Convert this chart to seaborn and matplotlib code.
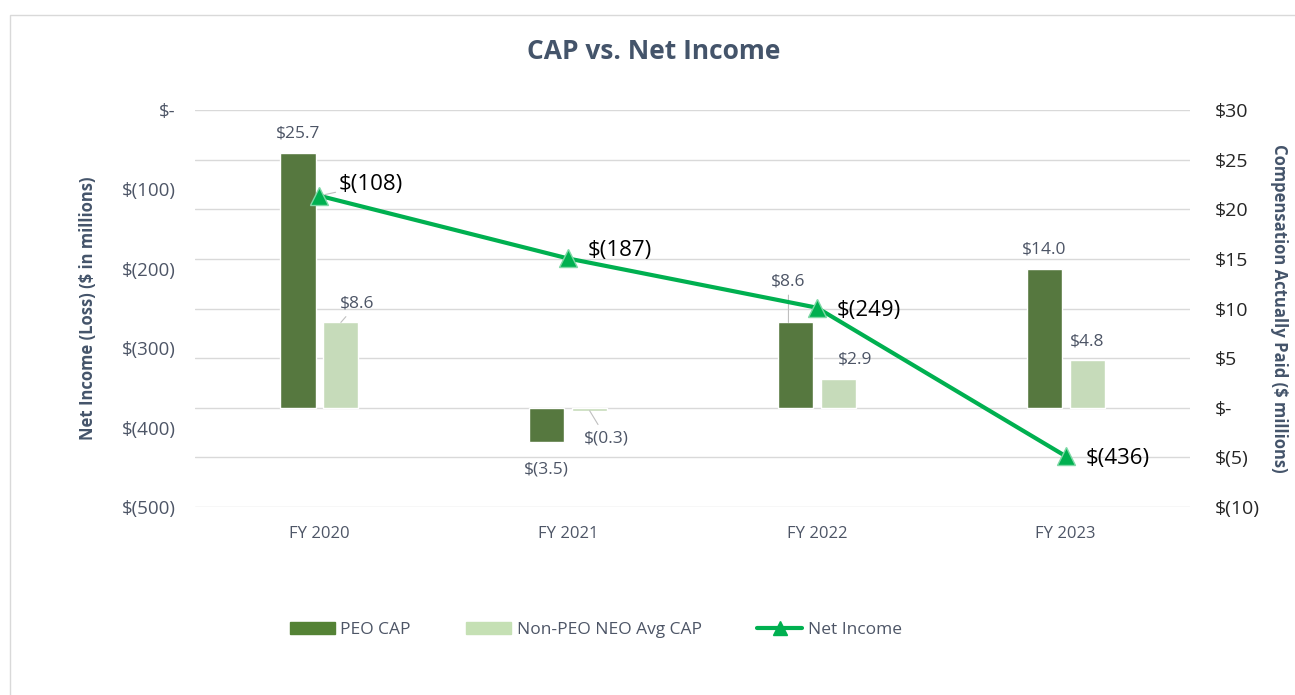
"""CAP vs. Net Income chart"""

from matplotlib import pyplot as plt
from matplotlib.lines import Line2D
from matplotlib.patches import Patch, Rectangle
import numpy as np
import pandas as pd
import seaborn as sns

years = ["FY 2020", "FY 2021", "FY 2022", "FY 2023"]
peo_cap = [25.7, -3.5, 8.6, 14.0]
neo_cap = [8.6, -0.3, 2.9, 4.8]
net_income = [-108, -187, -249, -436]

cap_ticks = [30, 25, 20, 15, 10, 5, 0, -5, -10]
ni_ticks = [0, -100, -200, -300, -400, -500]

DARK = "#548235"
LIGHT = "#C5E0B4"
LINE = "#00B050"
SLATE = "#44546A"
TEXT = "#4D5566"


def money(v, dec=1):
    if v == 0:
        return "$-"
    s = f"{abs(v):.{dec}f}"
    return f"$({s})" if v < 0 else f"${s}"


def main():
    sns.set_style("white")
    plt.rcParams["font.family"] = ["Open Sans", "DejaVu Sans"]

    df = pd.DataFrame(
        {
            "year": years * 2,
            "value": peo_cap + neo_cap,
            "series": ["PEO CAP"] * 4 + ["Non-PEO NEO Avg CAP"] * 4,
        }
    )

    fig, ax = plt.subplots(figsize=(12.95, 6.95), dpi=100)
    fig.subplots_adjust(left=0.1506, right=0.919, bottom=0.2705, top=0.8417)

    # light frame around the chart
    fig.patches.append(
        Rectangle((0.008, -0.01), 1.0, 0.988, transform=fig.transFigure,
                  fill=False, edgecolor="#D9D9D9", linewidth=1.0)
    )

    sns.barplot(
        data=df, x="year", y="value", hue="series",
        palette=[DARK, LIGHT], width=0.345, gap=0.18,
        legend=False, ax=ax, order=years,
    )
    ax_ni = ax.twinx()

    ax.set_ylim(-10, 30)
    ax.set_yticks(cap_ticks)
    ax.set_yticklabels([money(t, 0) for t in cap_ticks], fontsize=14, color="#262626")
    ax.yaxis.tick_right()
    ax.yaxis.set_label_position("right")
    ax.set_ylabel("Compensation Actually Paid ($ millions)", rotation=270,
                  labelpad=20, fontsize=12, fontweight="bold", color=SLATE)
    ax.grid(axis="y", color="#D9D9D9", linewidth=1)
    ax.set_axisbelow(True)
    ax.set_xlabel("")
    ax.tick_params(axis="x", labelsize=12, colors=TEXT, length=0, pad=14)
    ax.tick_params(axis="y", length=0, pad=18)
    for s in ax.spines.values():
        s.set_visible(False)

    # bar value labels (offset points per bar: dark, light)
    peo_off = [(0, 8), (0, -14), (0, 24), (0, 8)]
    neo_off = [(12, 8), (12, -14), (12, 8), (0, 8)]
    peo_bars = ax.patches[:4]
    neo_bars = ax.patches[4:8]
    for bars, vals, offs, leaders in (
        (peo_bars, peo_cap, peo_off, [False, False, True, False]),
        (neo_bars, neo_cap, neo_off, [True, True, False, False]),
    ):
        for b, v, off, lead in zip(bars, vals, offs, leaders):
            x = b.get_x() + b.get_width() / 2
            ox, oy = off
            xy = (b.get_x() + b.get_width() * 0.3, v) if oy > 20 else (x, v)
            ax.annotate(
                money(v), xy=xy, xytext=(ox, oy), textcoords="offset points",
                ha="center", va="bottom" if oy > 0 else "top",
                fontsize=12.5, color=TEXT,
                arrowprops=dict(arrowstyle="-", color="#BFBFBF", lw=0.8,
                                shrinkA=2, shrinkB=0) if lead else None,
            )

    sns.lineplot(
        x=np.arange(len(years)), y=net_income, ax=ax_ni, color=LINE,
        linewidth=3, marker="^", markersize=13, markeredgecolor="#7FD8A6",
        markeredgewidth=1,
    )
    ax_ni.set_ylim(-500, 0)
    ax_ni.set_yticks(ni_ticks)
    ax_ni.set_yticklabels([money(t, 0) for t in ni_ticks], fontsize=13.5, color=TEXT)
    ax_ni.yaxis.tick_left()
    ax_ni.yaxis.set_label_position("left")
    ax_ni.set_ylabel("Net Income (Loss) ($ in millions)", labelpad=18,
                     fontsize=12, fontweight="bold", color=SLATE)
    ax_ni.tick_params(axis="y", length=0, pad=14)
    for s in ax_ni.spines.values():
        s.set_visible(False)
    ax_ni.grid(False)
    ax.set_xlim(-0.5, len(years) - 0.5)

    ni_off = [(14, 8), (14, 6), (14, -2), (14, -2)]
    for i, (v, off) in enumerate(zip(net_income, ni_off)):
        ax_ni.annotate(
            money(v, 0), xy=(i, v), xytext=off, textcoords="offset points",
            ha="left", va="center", fontsize=16, color="black",
            arrowprops=dict(arrowstyle="-", color="#BFBFBF", lw=0.8,
                            shrinkA=0, shrinkB=4) if i == 0 else None,
        )

    fig.suptitle("CAP vs. Net Income", x=0.505, y=0.945, fontsize=19,
                 fontweight="bold", color=SLATE)

    handles = [
        Patch(color=DARK, label="PEO CAP"),
        Patch(color=LIGHT, label="Non-PEO NEO Avg CAP"),
        Line2D([], [], color=LINE, linewidth=3, marker="^", markersize=10,
               label="Net Income"),
    ]
    leg = fig.legend(handles=handles, loc="center", bbox_to_anchor=(0.46, 0.093),
                     ncol=3, frameon=False, fontsize=12.5, columnspacing=3.2,
                     handlelength=2.6, handletextpad=0.3)
    for t in leg.get_texts():
        t.set_color(TEXT)

    fig.savefig("out.png", dpi=100)


if __name__ == "__main__":
    main()
